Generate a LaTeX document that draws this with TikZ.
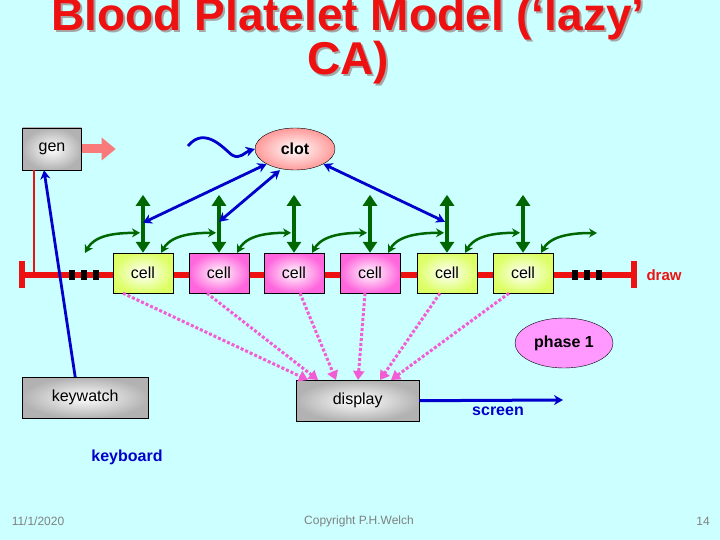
\documentclass[tikz,border=0pt]{standalone}
\usepackage{fontspec}
\setmainfont{Liberation Sans}
\usetikzlibrary{arrows.meta,shapes.geometric,decorations.pathmorphing}
\definecolor{bg}{HTML}{CCFFFF}
\definecolor{lime}{HTML}{DDFF66}
\definecolor{mag}{HTML}{FF66DD}
\definecolor{gr}{HTML}{006600}
\definecolor{bl}{HTML}{0000CC}
\definecolor{rd}{HTML}{EE1111}
\definecolor{viol}{HTML}{FF99FF}
\begin{document}
\begin{tikzpicture}[x=1pt,y=-1pt,
  box/.style={draw=black,rectangle,minimum width=60pt,minimum height=40pt,font=\fontsize{16}{16}\selectfont,inner sep=0pt},
  limecell/.style={box,inner color=white,outer color=lime},
  magcell/.style={box,inner color=white,outer color=mag},
  graybox/.style={draw=black,rectangle,inner color=white,outer color=gray!60,font=\fontsize{16}{16}\selectfont,inner sep=0pt},
  shaft/.style={gr,line width=4.5pt,{Triangle[width=14pt,length=11pt]}-{Triangle[width=14pt,length=11pt]}},
  curv/.style={gr,line width=2.5pt,{Stealth[width=9pt,length=8pt]}-{Stealth[width=9pt,length=8pt]}},
  blu/.style={bl,line width=2.8pt,{Stealth[width=10pt,length=9pt]}-{Stealth[width=10pt,length=9pt]}},
  dot/.style={mag!90!violet,line width=3pt,dotted,-{Triangle[width=11pt,length=9pt]}},
  foot/.style={gray,font=\fontsize{12}{12}\selectfont}]
\fill[bg] (0,0) rectangle (720,540);
\useasboundingbox (0,0) rectangle (720,540);
% title
\node[text=gray!70,font=\fontsize{46}{38}\selectfont\bfseries,align=center] at (350,43) {Blood Platelet Model (‘lazy’\\CA)};
\node[text=rd,font=\fontsize{46}{38}\selectfont\bfseries,align=center] (title) at (348,41) {Blood Platelet Model (‘lazy’\\CA)};
% red line
\coordinate (lb) at (22,275); \coordinate (rb) at (634,275);
\draw[rd,line width=6pt] (lb) -- (rb);
\draw[rd,line width=6pt] (22,261) -- (22,288);
\draw[rd,line width=6pt] (634,261) -- (634,288);
\foreach \x in {72,84,96,575,587,599} \fill[black] (\x-3,270) rectangle (\x+3,280);
% gen
\node[graybox,minimum width=59pt,minimum height=42pt] (gen) at (52,149) {gen};
\draw[rd,line width=2.5pt] (34,170) -- (34,275);
\draw[rd!40!pink,line width=9pt,-{Triangle[width=22pt,length=14pt]}] (gen.east) -- ++(34,0) coordinate (ge);
% clot
\node[ellipse,draw=black,inner color=white,outer color=pink!80!red,minimum width=80pt,minimum height=42pt,font=\fontsize{16}{16}\selectfont\bfseries] (clot) at (295,149) {clot};
\coordinate (ws) at (188,146);
\draw[bl,line width=2.8pt,-{Stealth[width=10pt,length=9pt]}] (ws) .. controls (205,125) and (225,150) .. (232,155) .. controls (240,160) and (245,152) .. (clot.west);
% cells
\node[limecell] (c1) at (143,273) {cell};
\node[magcell] (c2) at (219,273) {cell};
\node[magcell] (c3) at (294,273) {cell};
\node[magcell] (c4) at (370,273) {cell};
\node[limecell] (c5) at (447,273) {cell};
\node[limecell] (c6) at (523,273) {cell};
\foreach \c in {c1,c2,c3,c4,c5,c6} {
  \coordinate (\c t) at ([yshift=58pt]\c.north);
  \draw[shaft] (\c.north) -- (\c t);
}
\coordinate (s0) at (85,253);
\draw[curv] (s0) .. controls (95,235) and (115,233) .. ([xshift=-3pt,yshift=20pt]c1.north);
\foreach \a/\b in {c1/c2,c2/c3,c3/c4,c4/c5,c5/c6} {
  \draw[curv] ([xshift=-12pt]\a.north east) .. controls ([xshift=-2pt,yshift=18pt]\a.north east) and ([xshift=-25pt,yshift=20pt]\b.north) .. ([xshift=-3pt,yshift=20pt]\b.north);
}
\coordinate (e6) at (597,233);
\draw[curv] ([xshift=-12pt]c6.north east) .. controls ([xshift=-2pt,yshift=18pt]c6.north east) and (575,233) .. (e6);
% blue clot arrows
\draw[blu] (clot.south west) -- ([yshift=30pt]c1.north);
\draw[blu] ([xshift=-15pt]clot.south) -- ([yshift=31pt]c2.north);
\draw[blu] (clot.south east) -- ([xshift=-2pt,yshift=31pt]c5.north);
% lower
\node[graybox,minimum width=126pt,minimum height=41pt,anchor=north west] (kw) at (22,377) {keywatch};
\node[graybox,minimum width=123pt,minimum height=41pt,anchor=north west] (disp) at (296,380) {display};
\draw[bl,line width=2.8pt,-{Stealth[width=10pt,length=9pt]}] ([xshift=-10pt]kw.north) -- ([xshift=-8pt]gen.south);
\coordinate (scr) at (563,400);
\draw[bl,line width=3pt,-{Stealth[width=10pt,length=9pt]}] (disp.east) -- (scr);
\node[bl,font=\fontsize{16}{16}\selectfont\bfseries] (scrt) at (498,411) {screen};
\node[bl,font=\fontsize{16}{16}\selectfont\bfseries] (kb) at (127,457) {keyboard};
\node[ellipse,draw=black,fill=viol,minimum width=98pt,minimum height=50pt,font=\fontsize{16}{16}\selectfont\bfseries] (ph) at (564,343) {phase 1};
\node[text=rd,font=\fontsize{15}{15}\selectfont\bfseries] (dr) at (664,275) {draw};
% dotted
\draw[dot] ([xshift=-20pt]c1.south) -- ([xshift=12pt]disp.north west);
\draw[dot] ([xshift=-12pt]c2.south) -- ([xshift=22pt]disp.north west);
\draw[dot] ([xshift=6pt]c3.south) -- ([xshift=40pt]disp.north west);
\draw[dot] ([xshift=-5pt]c4.south) -- ([xshift=62pt]disp.north west);
\draw[dot] ([xshift=-7pt]c5.south) -- ([xshift=84pt]disp.north west);
\draw[dot] ([xshift=-14pt]c6.south) -- ([xshift=95pt]disp.north west);
% footer
\node[foot] (f1) at (38,521) {11/1/2020};
\node[foot] (f2) at (359,521) {Copyright P.H.Welch};
\node[foot] (f3) at (703,521) {14};
\end{tikzpicture}
\end{document}
